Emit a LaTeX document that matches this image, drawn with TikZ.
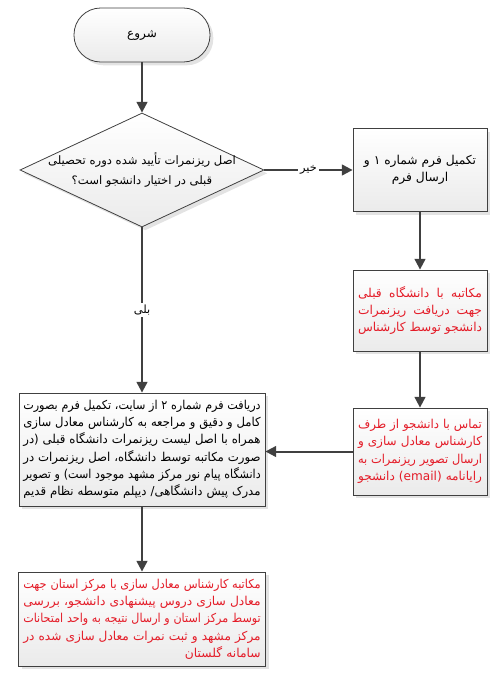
\documentclass[tikz,border=0pt]{standalone}
\usepackage{fontspec}
\usepackage{graphicx}
\setmainfont{DejaVu Sans}
\newfontfamily\fa[Script=Arabic]{DejaVu Sans}
\TeXXeTstate=1
\usetikzlibrary{shapes.geometric,arrows.meta,shadows}
\definecolor{linegray}{RGB}{64,64,64}
\definecolor{txtred}{RGB}{228,28,40}

% fit one line into the width
\newcommand{\fitline}[2]{\setbox0\hbox{#2}%
  \ifdim\wd0>\hsize\hbox to\hsize{\resizebox{\hsize}{\height}{\box0}}%
  \else\hbox to\hsize{#1#2}\fi}
% one line, stretched to the full width
\newcommand{\rline}[1]{\fitline{\spaceskip=0.3em plus 10em}{#1}}
% last line of a paragraph, flush right
\newcommand{\rlast}[1]{\fitline{\hfil}{#1}}
% latin bits inside the persian text
\newcommand{\lat}[1]{\beginL{\normalfont #1}\endL}

\begin{document}
\begin{tikzpicture}[x=0.75pt, y=-0.75pt,
    shade/.style={draw=linegray, line width=0.6pt, top color=white, bottom color=gray!16,
                  drop shadow={shadow xshift=2.5pt, shadow yshift=-2.5pt, opacity=0.22}},
    term/.style={shade, rounded corners=20pt, minimum width=102pt, minimum height=40.5pt,
                 font=\fa\fontsize{9}{13}\selectfont},
    decision/.style={shade, diamond, inner sep=0pt, minimum width=183pt, minimum height=85.5pt},
    proc/.style={shade, inner sep=0pt, font=\fa\fontsize{9.2}{13}\selectfont},
    note/.style={proc, text=txtred},
    arr/.style={-{Triangle[length=8pt,width=8pt]}, line width=1.5pt, draw=linegray},
    lbl/.style={fill=white, inner sep=1.5pt, font=\fa\fontsize{8.5}{12}\selectfont},
]
    \useasboundingbox (0,0) rectangle (499,680);

    \node[term]     (start)  at (142,35)  {\beginR شروع\endR};
    \node[decision] (dec)    at (142,170) {};
    \node[font=\fa\fontsize{8.7}{15}\selectfont, align=center] (dectxt) at (dec)
        {\beginR اصل ریزنمرات تأیید شده دوره تحصیلی\endR\\
         \beginR قبلی در اختیار دانشجو است؟\endR};
    \node[proc, minimum width=100.5pt, minimum height=62.25pt, align=center] (form1) at (420,170)
        {\beginR تکمیل فرم شماره ۱ و\endR\\\beginR ارسال فرم\endR};
    \node[note, minimum width=100.5pt, minimum height=60.75pt, text width=93pt] (letter) at (420,310.5)
        {\rline{\beginR مکاتبه با دانشگاه قبلی\endR}
         \rline{\beginR جهت دریافت ریزنمرات\endR}
         \rlast{\beginR دانشجو توسط کارشناس\endR}};
    \node[note, minimum width=100.5pt, minimum height=65.25pt, text width=93pt] (email) at (420,451.5)
        {\rline{\beginR تماس با دانشجو از طرف\endR}
         \rline{\beginR کارشناس معادل سازی و\endR}
         \rline{\beginR ارسال تصویر ریزنمرات به\endR}
         \rline{\beginR رایانامه \lat{(email)} دانشجو\endR}};
    \node[proc, minimum width=184.5pt, minimum height=84.75pt, text width=178pt] (form2) at (142,449.5)
        {\rline{\beginR دریافت فرم شماره ۲ از سایت، تکمیل فرم بصورت\endR}
         \rline{\beginR کامل و دقیق و مراجعه به کارشناس معادل سازی\endR}
         \rline{\beginR همراه با اصل لیست ریزنمرات دانشگاه قبلی \lat{)}در\endR}
         \rline{\beginR صورت مکاتبه توسط دانشگاه، اصل ریزنمرات در\endR}
         \rline{\beginR دانشگاه پیام نور مرکز مشهد موجود است\lat{(} و تصویر\endR}
         \rlast{\beginR مدرک پیش دانشگاهی/ دیپلم متوسطه نظام قدیم\endR}};
    \node[note, minimum width=185.25pt, minimum height=70.5pt, text width=178pt] (golestan) at (142,619)
        {\rline{\beginR مکاتبه کارشناس معادل سازی با مرکز استان جهت\endR}
         \rline{\beginR معادل سازی دروس پیشنهادی دانشجو، بررسی\endR}
         \rline{\beginR توسط مرکز استان و ارسال نتیجه به واحد امتحانات\endR}
         \rline{\beginR مرکز مشهد و ثبت نمرات معادل سازی شده در\endR}
         \rlast{\beginR سامانه گلستان\endR}};

    \draw[arr] (start) -- (dec);
    \draw[arr] (dec.east) -- node[lbl] {\beginR خیر\endR} (dec.east -| form1.west);
    \draw[arr] (form1) -- (letter);
    \draw[arr] (letter) -- (email);
    \draw[arr] (email.west) -- (email.west -| form2.east);
    \draw[arr] (dec.south) -- node[lbl] {\beginR بلی\endR} (form2.north);
    \draw[arr] (form2) -- (golestan);
\end{tikzpicture}
\end{document}
